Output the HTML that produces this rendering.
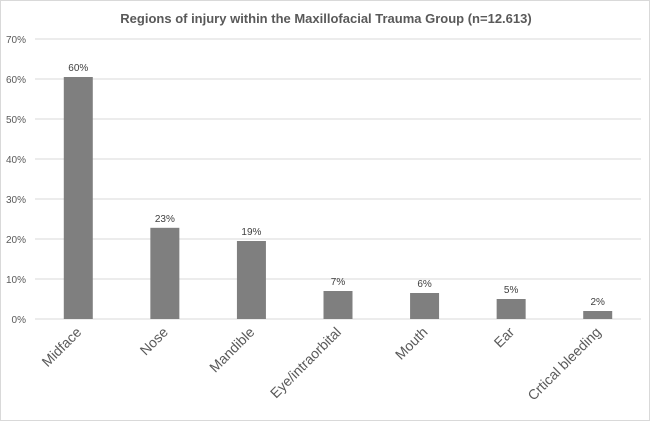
<!DOCTYPE html>
<html><head><meta charset="utf-8"><style>
body{margin:0;background:#fff;font-family:"Liberation Sans",sans-serif}
#c{position:absolute;left:0;top:0;width:648px;height:419px;border:1px solid #d9d9d9}
</style></head><body>
<div id="c">
<svg id="s" width="650" height="421"></svg>
</div>
<script>
const categories=["Midface","Nose","Mandible","Eye/intraorbital","Mouth","Ear","Crtical bleeding"];
const values=[60.5,22.8,19.5,7,6.5,5,2];
const valueLabels=["60%","23%","19%","7%","6%","5%","2%"];
const ticks=[0,10,20,30,40,50,60,70];
const ns="http://www.w3.org/2000/svg";
const s=document.getElementById('s');
const X0=34,X1=640,Y0=318,Y1=38,YMAX=70;
const y=v=>Y0-(v/YMAX)*(Y0-Y1);
const bw=(X1-X0)/categories.length;
const xc=i=>X0+bw*(i+0.5);
function mk(t,a,txt){const e=document.createElementNS(ns,t);for(const k in a)e.setAttribute(k,a[k]);if(txt!=null)e.textContent=txt;s.appendChild(e);return e;}
let t=mk('text',{x:325,y:22,'text-anchor':'middle','font-size':13,'font-weight':'bold',fill:'#595959'},'Regions of injury within the Maxillofacial Trauma Group (n=12.613)');


ticks.forEach(v=>{
 const l=mk('line',{x1:X0,x2:X1,y1:y(v),y2:y(v),stroke:'#d9d9d9','stroke-width':1});
 
 
 const tx=mk('text',{x:25,y:y(v)+4,'text-anchor':'end','font-size':10,fill:'#595959'},v+'%');
 
 
});
categories.forEach((c,i)=>{
 const w=29;
 const r=mk('rect',{x:xc(i)-w/2,y:y(values[i]),width:w,height:Y0-y(values[i]),fill:'#7f7f7f'});
 
 
 const vl=mk('text',{x:xc(i),y:y(values[i])-6,'text-anchor':'middle','font-size':10,fill:'#404040'},valueLabels[i]);
 
 
 const cl=mk('text',{x:xc(i)+4,y:Y0+14,'text-anchor':'end','font-size':14,fill:'#595959',transform:`rotate(-45 ${xc(i)+4} ${Y0+14})`},c);
 
 
});
</script>
</body></html>
